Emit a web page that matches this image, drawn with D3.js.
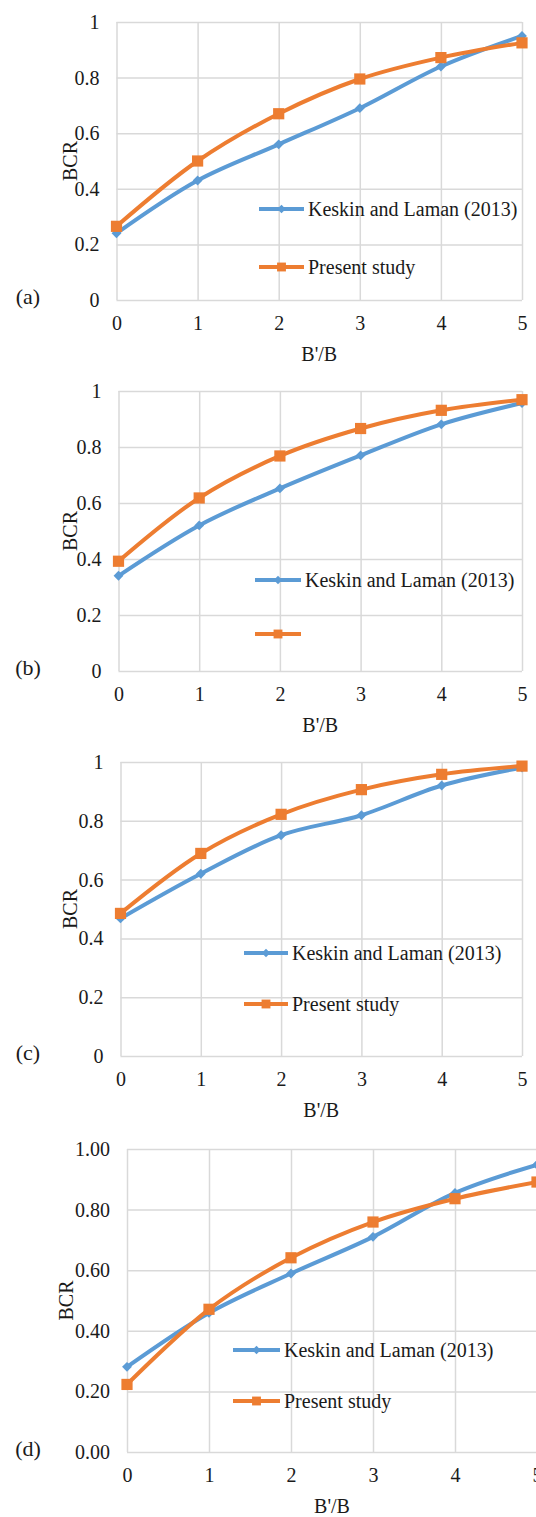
<!DOCTYPE html>
<html>
<head>
<meta charset="utf-8">
<script src="https://cdn.jsdelivr.net/npm/d3@7"></script>
<style>
  body { margin: 0; background: #fff; }
  svg text { font-family: "Liberation Serif", "Times New Roman", serif; fill: #1a1a1a; }
</style>
</head>
<body>
<div id="chart"></div>
<script>
// x values shared by all panels (B'/B)
var ratios = [0, 1, 2, 3, 4, 5];
var yTicks = [0, 0.2, 0.4, 0.6, 0.8, 1];
var panelLabels = ["(a)", "(b)", "(c)", "(d)"];

// BCR
var keskinA = [0.24, 0.43, 0.56, 0.69, 0.84, 0.95];
var presentA = [0.265, 0.50, 0.67, 0.795, 0.872, 0.925];
var keskinB = [0.34, 0.52, 0.652, 0.77, 0.881, 0.957];
var presentB = [0.392, 0.618, 0.768, 0.866, 0.931, 0.969];
var keskinC = [0.468, 0.62, 0.751, 0.819, 0.92, 0.981];
var presentC = [0.485, 0.689, 0.822, 0.906, 0.958, 0.986];
var keskinD = [0.281, 0.459, 0.589, 0.71, 0.855, 0.948];
var presentD = [0.223, 0.471, 0.641, 0.759, 0.836, 0.891];

var seriesNames = ["Keskin and Laman (2013)", "Present study"];

var svgWidth = 536;
var svgHeight = 1517;

var blue = "#5b9bd5";
var orange = "#ed7d31";

// where each panel sits on the page
var layout = [
  {left: 116.5, right: 522, top: 22, bottom: 300, fmt: "~g", legX: 259, legLen: 45, legY: 209, legGap: 58, showPresent: true},
  {left: 118.5, right: 522, top: 391, bottom: 671, fmt: "~g", legX: 255, legLen: 46, legY: 580, legGap: 54, showPresent: false},
  {left: 120.5, right: 522, top: 762, bottom: 1056, fmt: "~g", legX: 244, legLen: 44, legY: 953, legGap: 51, showPresent: true},
  {left: 127, right: 537, top: 1149, bottom: 1452, fmt: ".2f", legX: 233, legLen: 47, legY: 1350, legGap: 51, showPresent: true}
];

var panelData = [
  [keskinA, presentA],
  [keskinB, presentB],
  [keskinC, presentC],
  [keskinD, presentD]
];

var svg = d3.select("#chart")
  .append("svg")
  .attr("width", svgWidth)
  .attr("height", svgHeight);

var colors = [blue, orange];

layout.forEach(function(p, i) {
  var w = p.right - p.left;
  var h = p.bottom - p.top;

  var g = svg.append("g")
    .attr("transform", `translate(${p.left}, ${p.top})`);

  var x = d3.scaleLinear().domain([0, 5]).range([0, w]);
  var y = d3.scaleLinear().domain([0, 1]).range([h, 0]);

  // gridlines + tick labels
  var yAxis = g.append("g")
    .call(d3.axisLeft(y).tickValues(yTicks).tickFormat(d3.format(p.fmt)).tickSize(-w).tickPadding(17));
  var xAxis = g.append("g")
    .attr("transform", `translate(0, ${h})`)
    .call(d3.axisBottom(x).tickValues(ratios).tickFormat(d3.format("d")).tickSize(-h).tickPadding(16));

  [yAxis, xAxis].forEach(function(ax) {
    ax.select(".domain").remove();
    ax.selectAll(".tick line").attr("stroke", "#d9d9d9").attr("stroke-width", 1.5);
    ax.selectAll(".tick text")
      .attr("font-size", "20px")
      .attr("fill", "#1a1a1a");
  });

  // series, smoothed like the spreadsheet lines
  var line = d3.line()
    .x(function(d, k) { return x(ratios[k]); })
    .y(function(d) { return y(d); })
    .curve(d3.curveCatmullRom.alpha(0.5));

  var shapes = [d3.symbol().type(d3.symbolDiamond2).size(62), d3.symbol().type(d3.symbolSquare2).size(160)];

  panelData[i].forEach(function(vals, s) {
    g.append("path")
      .datum(vals)
      .attr("fill", "none")
      .attr("stroke", colors[s])
      .attr("stroke-width", 4)
      .attr("d", line);

    g.selectAll(null)
      .data(vals)
      .enter()
      .append("path")
      .attr("transform", function(d, k) { return `translate(${x(ratios[k])}, ${y(d)})`; })
      .attr("d", shapes[s]())
      .attr("fill", colors[s]);
  });

  // legend
  var legShapes = [d3.symbol().type(d3.symbolDiamond2).size(45), d3.symbol().type(d3.symbolSquare2).size(100)];
  seriesNames.forEach(function(name, s) {
    var ly = p.legY + s * p.legGap;
    svg.append("line")
      .attr("x1", p.legX).attr("x2", p.legX + p.legLen)
      .attr("y1", ly).attr("y2", ly)
      .attr("stroke", colors[s])
      .attr("stroke-width", 4);
    svg.append("path")
      .attr("transform", `translate(${p.legX + p.legLen / 2}, ${ly})`)
      .attr("d", legShapes[s]())
      .attr("fill", colors[s]);
    if (s === 0 || p.showPresent) {
      svg.append("text")
        .attr("x", p.legX + p.legLen + 4)
        .attr("y", ly)
        .attr("dy", "0.35em")
        .attr("font-size", "20px")
        .text(name);
    }
  });

  // axis titles
  svg.append("text")
    .attr("x", p.left + w / 2)
    .attr("y", p.bottom + 54)
    .attr("dy", "0.35em")
    .attr("text-anchor", "middle")
    .attr("font-size", "20px")
    .text("B'/B");

  svg.append("text")
    .attr("transform", `translate(${i === 3 ? 66 : 70}, ${p.top + h / 2}) rotate(-90)`)
    .attr("dy", "0.35em")
    .attr("text-anchor", "middle")
    .attr("font-size", "20px")
    .text("BCR");

  svg.append("text")
    .attr("x", 28)
    .attr("y", p.bottom - 4)
    .attr("dy", "0.35em")
    .attr("text-anchor", "middle")
    .attr("font-size", "22px")
    .text(panelLabels[i]);
});
</script>
</body>
</html>
